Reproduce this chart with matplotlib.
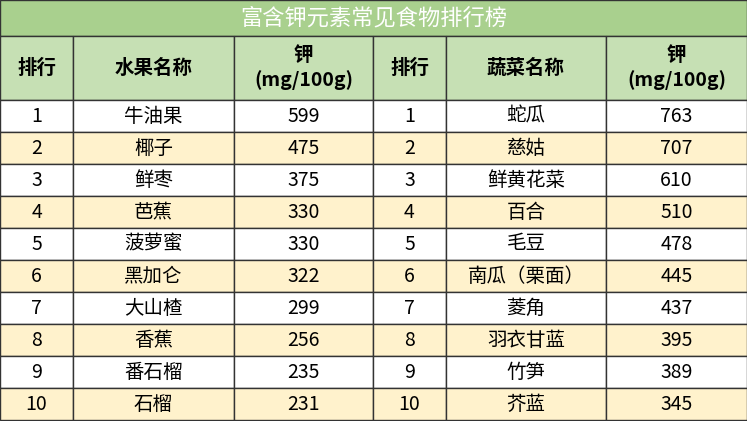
import matplotlib
matplotlib.use("Agg")
import matplotlib.pyplot as plt
from matplotlib.patches import Rectangle

plt.rcParams["font.family"] = "Noto Sans CJK SC"

title = "富含钾元素常见食物排行榜"
headers = ["排行", "水果名称", "钾\n(mg/100g)", "排行", "蔬菜名称", "钾\n(mg/100g)"]
ranks = list(range(1, 11))
fruits = ["牛油果", "椰子", "鲜枣", "芭蕉", "菠萝蜜", "黑加仑", "大山楂", "香蕉", "番石榴", "石榴"]
fruit_k = [599, 475, 375, 330, 330, 322, 299, 256, 235, 231]
vegs = ["蛇瓜", "慈姑", "鲜黄花菜", "百合", "毛豆", "南瓜（栗面）", "菱角", "羽衣甘蓝", "竹笋", "芥蓝"]
veg_k = [763, 707, 610, 510, 478, 445, 437, 395, 389, 345]

W, H = 747, 421
col_x = [0, 73, 234, 373, 446, 606, 747]
title_h, head_h, row_h = 36, 64, 32

fig = plt.figure(figsize=(W / 100, H / 100), dpi=100)
ax = fig.add_axes([0, 0, 1, 1])
ax.set_xlim(0, W)
ax.set_ylim(H, 0)
ax.axis("off")

edge = "#333333"
ax.add_patch(Rectangle((0, 0), W, title_h, facecolor="#a9d08e", edgecolor=edge, lw=1))
ax.text(W / 2, title_h / 2, title, color="white", fontsize=16, ha="center", va="center")

y0 = title_h
for i, h in enumerate(headers):
    x0, x1 = col_x[i], col_x[i + 1]
    ax.add_patch(Rectangle((x0, y0), x1 - x0, head_h, facecolor="#c6e0b4", edgecolor=edge, lw=1))
    ax.text((x0 + x1) / 2, y0 + head_h / 2, h, fontsize=14, fontweight="bold",
            ha="center", va="center", linespacing=1.3)

for r in range(10):
    y = title_h + head_h + r * row_h
    fc = "white" if r % 2 == 0 else "#fff2cc"
    vals = [ranks[r], fruits[r], fruit_k[r], ranks[r], vegs[r], veg_k[r]]
    for i, v in enumerate(vals):
        x0, x1 = col_x[i], col_x[i + 1]
        ax.add_patch(Rectangle((x0, y), x1 - x0, row_h, facecolor=fc, edgecolor=edge, lw=1))
        ax.text((x0 + x1) / 2, y + row_h / 2, str(v), fontsize=14, ha="center", va="center")

fig.savefig("out.png", dpi=100)
